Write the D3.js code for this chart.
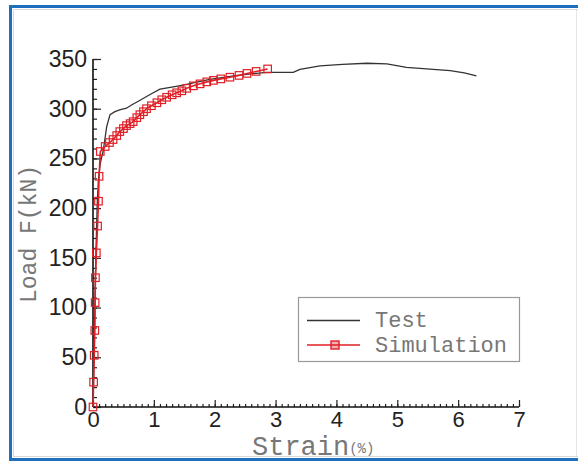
<!DOCTYPE html>
<html>
<head>
<meta charset="utf-8">
<script src="https://cdn.jsdelivr.net/npm/d3@7"></script>
<style>
  html, body { margin: 0; padding: 0; background: #fff; }
  svg { display: block; }
</style>
</head>
<body>
<svg id="chart" width="578" height="462"></svg>
<script>
// Load–strain response: measured test curve and simulated curve
const testStrain = [0, 0.01, 0.03, 0.05, 0.07, 0.09, 0.12, 0.17, 0.225, 0.28, 0.36, 0.45, 0.55, 0.64, 0.73, 0.83, 0.96, 1.10, 1.32, 1.50, 1.65, 1.92, 2.31, 2.60, 2.85, 3.29, 3.40, 3.73, 4.10, 4.50, 4.83, 5.15, 5.59, 5.87, 6.10, 6.30];
const testLoad   = [0, 30, 100, 160, 205, 230, 245, 258.5, 282, 294, 297, 299, 300.5, 304, 307, 310.5, 315, 319.6, 322, 324, 326, 329.6, 333, 335, 336.6, 336.6, 339.6, 343, 344.5, 345.7, 345, 341.6, 339.6, 338.3, 336, 333];

const simStrain = [0, 0.01, 0.02, 0.03, 0.035, 0.04, 0.055, 0.075, 0.09, 0.10, 0.12, 0.20, 0.27, 0.33, 0.39, 0.44, 0.50, 0.55, 0.61, 0.66, 0.72, 0.77, 0.83, 0.88, 0.96, 1.05, 1.13, 1.21, 1.30, 1.375, 1.46, 1.54, 1.65, 1.76, 1.87, 1.98, 2.10, 2.25, 2.40, 2.53, 2.68, 2.87];
const simLoad   = [0, 25, 52, 77, 105, 130, 155, 182, 207, 232, 257, 262, 266, 269, 273, 277, 280, 283, 285, 287, 291, 294, 297, 300, 303, 306, 309, 311.5, 314, 316, 318, 320.5, 323, 325, 327, 328.5, 330, 331.7, 333.5, 335.5, 337.5, 340];

const xTicks = [0, 1, 2, 3, 4, 5, 6, 7];
const yTicks = [0, 50, 100, 150, 200, 250, 300, 350];
const seriesNames = ["Test", "Simulation"];

const svg = d3.select("#chart");

// frame around the figure
svg.append("rect").attr("x", 0).attr("y", 0).attr("width", 578).attr("height", 462).attr("fill", "#fff");
svg.append("path")
  .attr("d", "M 590 6.5 L 10.5 6.5 L 10.5 459.5 L 590 459.5")
  .attr("fill", "none").attr("stroke", "#1f6fbf").attr("stroke-width", 3);
svg.append("path")
  .attr("d", "M 590 9.5 L 13.5 9.5 L 13.5 456.5 L 590 456.5")
  .attr("fill", "none").attr("stroke", "#d8d8d8").attr("stroke-width", 1);
svg.append("line").attr("x1", 576.5).attr("x2", 576.5).attr("y1", 10).attr("y2", 456)
  .attr("stroke", "#e6e6e6").attr("stroke-width", 1);

const x = d3.scaleLinear().domain([0, 7]).range([93, 519]);
const y = d3.scaleLinear().domain([0, 350]).range([407, 59]);

// axes with inward ticks
const gx = svg.append("g").attr("transform", `translate(0,${y(0)})`);
gx.call(d3.axisBottom(x).tickValues(d3.range(0, 7.001, 0.1)).tickSize(-3).tickFormat(""));
gx.call(g => g.selectAll(".domain").remove());
const gxMajor = svg.append("g").attr("transform", `translate(0,${y(0)})`);
gxMajor.call(d3.axisBottom(x).tickValues(xTicks).tickSize(-7).tickPadding(4).tickFormat(d3.format("d")));
gxMajor.select(".domain").attr("d", `M${x(0)},0H${x(7)}`);

const gy = svg.append("g").attr("transform", `translate(${x(0)},0)`);
gy.call(d3.axisLeft(y).tickValues(d3.range(0, 351, 10)).tickSize(-4).tickFormat(""));
gy.call(g => g.selectAll(".domain").remove());
const gyMajor = svg.append("g").attr("transform", `translate(${x(0)},0)`);
gyMajor.call(d3.axisLeft(y).tickValues(yTicks).tickSize(-8).tickPadding(6).tickFormat(d3.format("d")));
gyMajor.select(".domain").attr("d", `M0,${y(0)}V${y(350)}`);

svg.selectAll(".tick line").attr("stroke", "#222").attr("stroke-width", 1.2);
svg.selectAll(".domain").attr("stroke", "#111").attr("stroke-width", 1.6);
gxMajor.selectAll("text").attr("font-family", "Liberation Sans, Arial, sans-serif").attr("font-size", 22).attr("fill", "#222");
gyMajor.selectAll("text").attr("font-family", "Liberation Sans, Arial, sans-serif").attr("font-size", 23).attr("fill", "#222");

// axis titles
const xt = svg.append("text").attr("x", 252).attr("y", 455)
  .attr("font-family", "Liberation Mono, Courier New, monospace").attr("fill", "#777");
xt.append("tspan").attr("font-size", 27).text("Strain");
xt.append("tspan").attr("font-size", 14).attr("dy", -2).text("(%)");

svg.append("text")
  .attr("transform", "translate(36,234) rotate(-90)")
  .attr("text-anchor", "middle")
  .attr("font-family", "Liberation Mono, Courier New, monospace")
  .attr("font-size", 23).attr("fill", "#777")
  .text("Load F(kN)");

// curves
const line = d3.line().x(d => x(d[0])).y(d => y(d[1]));
const testData = testStrain.map((s, i) => [s, testLoad[i]]);
const simData = simStrain.map((s, i) => [s, simLoad[i]]);

svg.append("path").datum(testData).attr("d", line)
  .attr("fill", "none").attr("stroke", "#333").attr("stroke-width", 1.3);

svg.append("path").datum(simData).attr("d", line)
  .attr("fill", "none").attr("stroke", "#e01f26").attr("stroke-width", 1.6);

const ms = 7.5;
svg.append("g").selectAll("rect").data(simData).join("rect")
  .attr("x", d => x(d[0]) - ms / 2).attr("y", d => y(d[1]) - ms / 2)
  .attr("width", ms).attr("height", ms)
  .attr("fill", "none").attr("stroke", "#e01f26").attr("stroke-width", 1.2);

// legend
const lg = svg.append("g");
lg.append("rect").attr("x", 298.5).attr("y", 297.5).attr("width", 221).attr("height", 64)
  .attr("fill", "#fff").attr("stroke", "#999").attr("stroke-width", 1.2);
lg.append("line").attr("x1", 307).attr("x2", 360).attr("y1", 320.5).attr("y2", 320.5)
  .attr("stroke", "#333").attr("stroke-width", 1.6);
lg.append("line").attr("x1", 307).attr("x2", 360).attr("y1", 345).attr("y2", 345)
  .attr("stroke", "#e01f26").attr("stroke-width", 1.6);
lg.append("rect").attr("x", 331).attr("y", 341).attr("width", 8).attr("height", 8)
  .attr("fill", "#e01f26").attr("fill-opacity", 0.35).attr("stroke", "#e01f26").attr("stroke-width", 1.4);
lg.selectAll("text.lab").data(seriesNames).join("text").attr("class", "lab")
  .attr("x", 375).attr("y", (d, i) => 327 + i * 25)
  .attr("font-family", "Liberation Mono, Courier New, monospace")
  .attr("font-size", 22).attr("fill", "#777")
  .text(d => d);
</script>
</body>
</html>
